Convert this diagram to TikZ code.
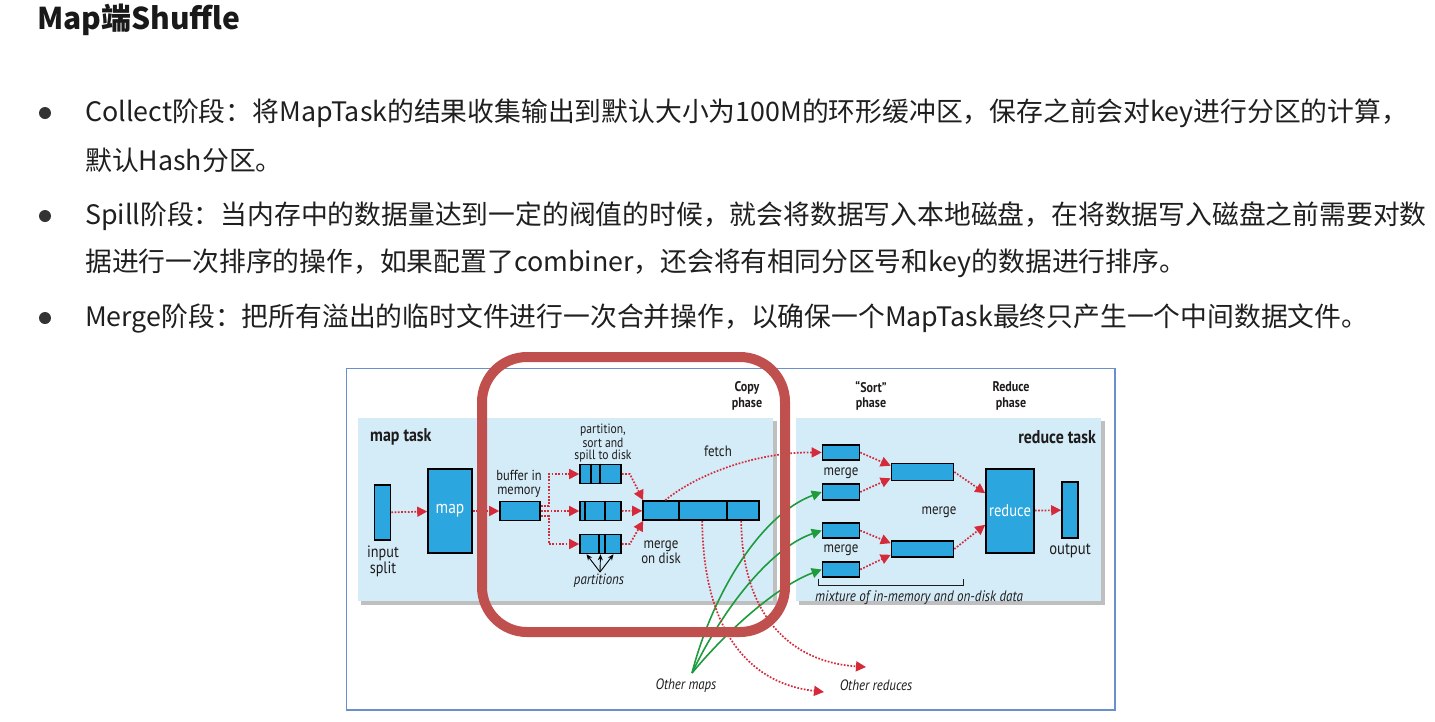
\documentclass[tikz,border=0pt]{standalone}
\usepackage{fontspec}
\newfontfamily\cjk{Noto Sans CJK SC}
\newfontfamily\dfont[FakeStretch=0.86]{PT Sans}
\usetikzlibrary{arrows.meta}
\definecolor{boxblue}{HTML}{2BA6DE}
\definecolor{panelblue}{HTML}{D4ECF8}
\definecolor{flowred}{HTML}{D42A3A}
\definecolor{mapgreen}{HTML}{1E9B3C}
\definecolor{hlred}{HTML}{C0504D}
\definecolor{framebl}{HTML}{6A8FCB}
\definecolor{inkgray}{HTML}{1E1B1C}
\tikzset{
  box/.style={draw=black, line width=1.6pt, fill=boxblue, inner sep=0pt},
  flow/.style={flowred, line width=1.7pt, dash pattern=on 1.7pt off 1.6pt, -{Triangle[length=10pt,width=10pt]}},
  feed/.style={mapgreen, line width=1.6pt, -{Triangle[length=10pt,width=10pt]}},
  lbl/.style={text=inkgray, align=center, inner sep=0pt, font=\dfont\fontsize{15}{13.5}\selectfont},
  para/.style={anchor=west, inner sep=0pt, text=black!88, font=\cjk\fontsize{26.8}{30}\selectfont},
  dot/.style={circle, fill=black!80, minimum size=12pt, inner sep=0pt},
}
\begin{document}
\begin{tikzpicture}[x=1pt,y=-1pt]
\useasboundingbox (0,0) rectangle (1435,721);

\node[anchor=west, inner sep=0pt, text=black!90, font=\cjk\bfseries\fontsize{30}{32}\selectfont] (title) at (37,20) {Map端Shuffle};

\node[dot] (b1) at (45,113) {};
\node[dot] (b2) at (45,216) {};
\node[dot] (b3) at (45,318) {};
\node[para] (l1) at (85,113) {Collect阶段：将MapTask的结果收集输出到默认大小为100M的环形缓冲区，保存之前会对key进行分区的计算，};
\node[para] (l2) at (85,160) {默认Hash分区。};
\node[para] (l3) at (85,216) {Spill阶段：当内存中的数据量达到一定的阀值的时候，就会将数据写入本地磁盘，在将数据写入磁盘之前需要对数};
\node[para] (l4) at (85,263) {据进行一次排序的操作，如果配置了combiner，还会将有相同分区号和key的数据进行排序。};
\node[para] (l5) at (85,318) {Merge阶段：把所有溢出的临时文件进行一次合并操作，以确保一个MapTask最终只产生一个中间数据文件。};

% frame and task panels
\draw[framebl, line width=1.5pt] (346.5,368.5) rectangle (1115,710);
\fill[black!25] (361,421) rectangle (777,605);
\fill[black!25] (799,421) rectangle (1105,605);
\fill[panelblue] (358,418) rectangle (773,601);
\fill[panelblue] (796,418) rectangle (1101,601);

\node[lbl, anchor=west, font=\dfont\bfseries\fontsize{18.5}{18}\selectfont] (maptask) at (370,437) {map task};
\node[lbl, anchor=east, font=\dfont\bfseries\fontsize{18.5}{18}\selectfont] (redtask) at (1096,437) {reduce task};
\node[lbl, font=\dfont\bfseries\fontsize{14}{15.5}\selectfont] (copyph) at (747,396) {Copy\\phase};
\node[lbl, font=\dfont\bfseries\fontsize{14}{15.5}\selectfont] (sortph) at (871,396) {“Sort”\\phase};
\node[lbl, font=\dfont\bfseries\fontsize{14}{15.5}\selectfont] (redph) at (1011,396) {Reduce\\phase};

% map side
\node[box, minimum width=16pt, minimum height=55pt] (insplit) at (382.5,512.5) {};
\node[box, minimum width=44pt, minimum height=84pt, lbl, text=white, font=\dfont\fontsize{18}{18}\selectfont] (map) at (450,511) {map};
\node[box, minimum width=40pt, minimum height=19pt] (buf) at (520,511) {};
\node[box, minimum width=41pt, minimum height=19pt] (sp1) at (600.5,474) {};
\node[box, minimum width=41pt, minimum height=19pt] (sp2) at (600.5,511) {};
\node[box, minimum width=41pt, minimum height=19pt] (sp3) at (600.5,544) {};
\node[box, minimum width=116pt, minimum height=19pt] (mrg) at (701,510.5) {};
\draw[line width=1.6pt] ([xshift=12pt]sp1.north west) -- ([xshift=12pt]sp1.south west);
\draw[line width=1.6pt] ([xshift=21pt]sp1.north west) -- ([xshift=21pt]sp1.south west);
\draw[line width=1.6pt] ([xshift=6pt]sp2.north west) -- ([xshift=6pt]sp2.south west);
\draw[line width=1.6pt] ([xshift=26pt]sp2.north west) -- ([xshift=26pt]sp2.south west);
\draw[line width=1.6pt] ([xshift=20pt]sp3.north west) -- ([xshift=20pt]sp3.south west);
\draw[line width=1.6pt] ([xshift=26pt]sp3.north west) -- ([xshift=26pt]sp3.south west);
\draw[line width=1.6pt] ([xshift=37pt]mrg.north west) -- ([xshift=37pt]mrg.south west);
\draw[line width=1.6pt] ([xshift=85pt]mrg.north west) -- ([xshift=85pt]mrg.south west);

\node[lbl, font=\dfont\fontsize{16.5}{16}\selectfont] (insplitlbl) at (383,561) {input\\split};
\node[lbl, font=\dfont\fontsize{14.5}{13.5}\selectfont] (buflbl) at (519,484) {buffer in\\memory};
\node[lbl, font=\dfont\fontsize{13.5}{12}\selectfont] (spilllbl) at (603,443) {partition,\\sort and\\spill to disk};
\node[lbl] (fetchlbl) at (718,451) {fetch};
\node[lbl] (mdisklbl) at (661,552) {merge\\on disk};
\node[lbl, font=\dfont\itshape\fontsize{15}{13}\selectfont] (partlbl) at (599,581) {partitions};
\coordinate (partsrc) at (600,572);
\draw[-{Stealth[length=6pt,width=5pt]}, line width=0.9pt] (partsrc) -- ([xshift=-14pt]sp3.south);
\draw[-{Stealth[length=6pt,width=5pt]}, line width=0.9pt] (partsrc) -- (sp3.south);
\draw[-{Stealth[length=6pt,width=5pt]}, line width=0.9pt] (partsrc) -- ([xshift=13pt]sp3.south);

\draw[flow] (insplit) -- (map);
\draw[flow] (map) -- (buf);
\draw[flow] ([yshift=5pt]buf.east) -- ++(8,0) |- (sp1.west);
\draw[flow] (buf) -- (sp2);
\draw[flow] ([yshift=-5pt]buf.east) -- ++(8,0) |- (sp3.west);
\draw[flow] (sp1.east) -- ++(8,0) -- ([xshift=1pt]mrg.north west);
\draw[flow] (sp2) -- (mrg);
\draw[flow] (sp3.east) -- ++(8,0) -- ([xshift=1pt]mrg.south west);

% reduce side
\node[box, minimum width=37pt, minimum height=15pt] (r1) at (841,452.5) {};
\node[box, minimum width=37pt, minimum height=16pt] (r2) at (841,492) {};
\node[box, minimum width=37pt, minimum height=15pt] (r3) at (841,530.5) {};
\node[box, minimum width=37pt, minimum height=15pt] (r4) at (841,569.5) {};
\node[box, minimum width=62pt, minimum height=17pt] (m1) at (922.5,472) {};
\node[box, minimum width=62pt, minimum height=16pt] (m2) at (922.5,549) {};
\node[box, minimum width=48pt, minimum height=84pt, lbl, text=white, font=\dfont\fontsize{17}{16}\selectfont] (red) at (1010,511) {reduce};
\node[box, minimum width=16pt, minimum height=56pt] (out) at (1070,510) {};

\node[lbl] (mlbl1) at (841,473) {merge};
\node[lbl] (mlbl2) at (841,550) {merge};
\node[lbl] (mlbl3) at (939,512) {merge};
\node[lbl, font=\dfont\fontsize{17}{16}\selectfont] (outlbl) at (1070,551) {output};
\node[lbl, anchor=west, font=\dfont\itshape\fontsize{15.2}{13}\selectfont] (mixlbl) at (815,598) {mixture of in-memory and on-disk data};
\draw[line width=0.9pt, inkgray] (818,579) -- (818,585) -- (963,585) -- (963,579);

\draw[flow] (r1.east) -- ([yshift=-3pt]m1.north west);
\draw[flow] (r2.east) -- ([yshift=3pt]m1.south west);
\draw[flow] (r3.east) -- ([yshift=-3pt]m2.north west);
\draw[flow] (r4.east) -- ([yshift=3pt]m2.south west);
\draw[flow] (m1.east) -- ([yshift=-25pt]red.north west);
\draw[flow] (m2.east) -- ([yshift=29pt]red.south west);
\draw[flow] (red) -- (out);

% copy between tasks
\draw[flow] ([xshift=23pt]mrg.north west) .. controls (700,472) and (760,452) .. (r1.west);

\node[lbl, font=\dfont\itshape\fontsize{15}{13}\selectfont] (omaps) at (686,686) {Other maps};
\node[lbl, font=\dfont\itshape\fontsize{15}{13}\selectfont] (oreds) at (876,685) {Other reduces};
\coordinate (omsrc) at (692,673);
\coordinate (ored1) at (824,692);
\coordinate (ored2) at (866,667);
\draw[feed] (omsrc) .. controls (712,595) and (760,515) .. (r2.west);
\draw[feed] (omsrc) .. controls (722,610) and (770,548) .. (r3.west);
\draw[feed] (omsrc) .. controls (732,625) and (780,585) .. (r4.west);
\draw[flow] ([xshift=60pt]mrg.south west) .. controls (703,625) and (745,683) .. (ored1);
\draw[flow] ([xshift=99pt]mrg.south west) .. controls (742,615) and (790,662) .. (ored2);

% highlight
\draw[hlred, line width=10pt, rounded corners=45pt] (482,357) rectangle (785,632);
\end{tikzpicture}
\end{document}
